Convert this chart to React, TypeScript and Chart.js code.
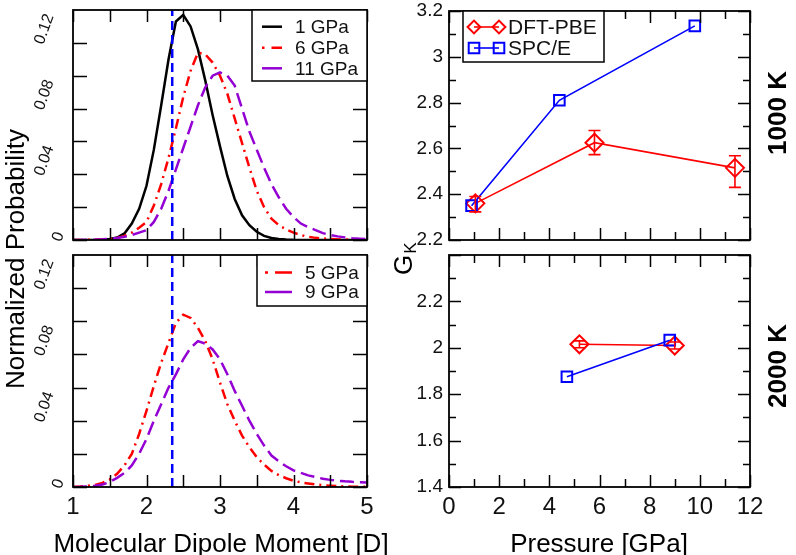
import React, { useEffect, useRef } from "react";
import { Chart, registerables } from "chart.js";

Chart.register(...registerables);

const FONT = "'Liberation Sans', Arial, Helvetica, sans-serif";

// ---------------- data: dipole distributions ----------------
const DIPOLE_D = [
  1.0, 1.1, 1.2, 1.3, 1.4, 1.5, 1.6, 1.7, 1.8, 1.9,
  2.0, 2.1, 2.2, 2.3, 2.4, 2.5, 2.6, 2.7, 2.8, 2.9,
  3.0, 3.1, 3.2, 3.3, 3.4, 3.5, 3.6, 3.7, 3.8, 3.9,
  4.0, 4.1, 4.2, 4.3, 4.4, 4.5, 4.6, 4.7, 4.8, 4.9, 5.0,
];
const PROB_1GPA = [
  0, 0, 0, 0, 0.0002, 0.0006, 0.0015, 0.004, 0.01, 0.019,
  0.033, 0.055, 0.082, 0.11, 0.133, 0.137, 0.13, 0.116, 0.097, 0.076,
  0.057, 0.039, 0.025, 0.015, 0.009, 0.005, 0.0025, 0.0012, 0.0006, 0.0003,
  0.0001, 0, 0, 0, 0, 0, 0, 0, 0, 0, 0,
];
const PROB_6GPA = [
  0, 0, 0.0001, 0.0002, 0.0004, 0.0007, 0.0012, 0.0025, 0.0045, 0.0075,
  0.011, 0.021, 0.034, 0.05, 0.068, 0.087, 0.103, 0.114, 0.113, 0.108,
  0.1, 0.089, 0.074, 0.059, 0.044, 0.03, 0.02, 0.013, 0.009, 0.0065,
  0.0045, 0.003, 0.002, 0.0013, 0.0009, 0.0006, 0.0004, 0.0003, 0.0002, 0.0001, 0.0001,
];
const PROB_11GPA = [
  0, 0, 0.0001, 0.0002, 0.0004, 0.0007, 0.0012, 0.002, 0.003, 0.0045,
  0.006, 0.011, 0.019, 0.03, 0.043, 0.056, 0.069, 0.082, 0.093, 0.1,
  0.102, 0.1, 0.094, 0.08, 0.066, 0.055, 0.044, 0.034, 0.026, 0.019,
  0.014, 0.01, 0.0078, 0.006, 0.0042, 0.003, 0.0022, 0.0016, 0.0011, 0.0008, 0.0005,
];
const PROB_5GPA = [
  0, 0.0003, 0.0007, 0.0013, 0.0025, 0.0045, 0.008, 0.013, 0.02, 0.032,
  0.046, 0.061, 0.075, 0.087, 0.099, 0.104, 0.102, 0.096, 0.088, 0.077,
  0.063, 0.05, 0.04, 0.031, 0.024, 0.018, 0.0135, 0.0097, 0.0072, 0.0053,
  0.0038, 0.0028, 0.0021, 0.0015, 0.0011, 0.0008, 0.0005, 0.0003, 0.0002, 0.0001, 0.0001,
];
const PROB_9GPA = [
  0, 0.0001, 0.0003, 0.0007, 0.0015, 0.003, 0.0055, 0.0085, 0.013, 0.02,
  0.029, 0.04, 0.05, 0.06, 0.068, 0.077, 0.084, 0.088, 0.0865, 0.083,
  0.077, 0.068, 0.058, 0.049, 0.04, 0.032, 0.025, 0.019, 0.0155, 0.0125,
  0.01, 0.0085, 0.007, 0.006, 0.005, 0.0043, 0.0038, 0.0034, 0.0031, 0.0029, 0.0027,
];
const REF_DIPOLE = 2.35;
const DIPOLE_MIN = 1;
const DIPOLE_MAX = 5;
const PROB_MIN = 0;
const PROB_MAX = 0.14;
const DIPOLE_MAJOR = [1, 2, 3, 4, 5];
const DIPOLE_LABELS = ["1", "2", "3", "4", "5"];
const DIPOLE_MINOR = [1.5, 2.5, 3.5, 4.5];
const PROB_MAJOR = [0, 0.04, 0.08, 0.12];
const PROB_LABELS = ["0", "0.04", "0.08", "0.12"];
const PROB_MINOR = [0.02, 0.06, 0.1];

// ---------------- data: Kirkwood factor ----------------
const P_DFT_1000 = [1.05, 5.8, 11.4];
const G_DFT_1000 = [2.36, 2.625, 2.515];
const G_DFT_1000_LO = [2.323, 2.573, 2.43];
const G_DFT_1000_HI = [2.39, 2.678, 2.568];
const P_SPCE_1000 = [0.9, 4.4, 9.8];
const G_SPCE_1000 = [2.35, 2.81, 3.135];

const P_DFT_2000 = [5.2, 9.0];
const G_DFT_2000 = [2.015, 2.01];
const G_DFT_2000_LO = [2.0, 1.995];
const G_DFT_2000_HI = [2.03, 2.025];
const P_SPCE_2000 = [4.7, 8.8];
const G_SPCE_2000 = [1.875, 2.033];

const P_MIN = 0;
const P_MAX = 12;
const P_MAJOR = [0, 2, 4, 6, 8, 10, 12];
const P_LABELS = ["0", "2", "4", "6", "8", "10", "12"];
const P_MINOR = [1, 3, 5, 7, 9, 11];
const G1000_MIN = 2.2;
const G1000_MAX = 3.2;
const G1000_MAJOR = [2.2, 2.4, 2.6, 2.8, 3.0, 3.2];
const G1000_LABELS = ["2.2", "2.4", "2.6", "2.8", "3", "3.2"];
const G1000_MINOR = [2.3, 2.5, 2.7, 2.9, 3.1];
const G2000_MIN = 1.4;
const G2000_MAX = 2.4;
const G2000_MAJOR = [1.4, 1.6, 1.8, 2.0, 2.2];
const G2000_LABELS = ["1.4", "1.6", "1.8", "2", "2.2"];
const G2000_MINOR = [1.5, 1.7, 1.9, 2.1, 2.3];

const BLACK = "#000000";
const RED = "#ff0000";
const VIOLET = "#9400d3";
const BLUE = "#0000ff";

const pts = (xs: number[], ys: number[]) => xs.map((x, i) => ({ x, y: ys[i] }));

type LegendItem = {
  label: string;
  color: string;
  dash: number[];
  width: number;
  marker?: "diamond" | "square";
};
type LegendSpec = {
  anchor: "left" | "right";
  dx: number;
  w: number;
  h: number;
  rows: number[];
  sx0: number;
  sx1: number;
  tx: number;
  font: string;
  items: LegendItem[];
};
type TextSpec = {
  text: string;
  x: number;
  y: number;
  font: string;
  align: CanvasTextAlign;
  rot?: number;
  sub?: string;
  subFont?: string;
};
type ErrSpec = { xs: number[]; lo: number[]; hi: number[]; color: string; width: number; cap: number };
type DecorSpec = {
  xMajor: number[];
  xMinor: number[];
  yMajor: number[];
  yMinor: number[];
  xMajorLen: number;
  xMinorLen: number;
  yMajorLen: number;
  yMinorLen: number;
  rotLabels?: { values: number[]; labels: string[] };
  legend?: LegendSpec;
  texts?: TextSpec[];
  errors?: ErrSpec[];
};

function drawMarker(ctx: CanvasRenderingContext2D, kind: string, x: number, y: number, s: number) {
  ctx.beginPath();
  if (kind === "diamond") {
    ctx.moveTo(x - s, y);
    ctx.lineTo(x, y - s);
    ctx.lineTo(x + s, y);
    ctx.lineTo(x, y + s);
    ctx.closePath();
  } else {
    ctx.rect(x - s, y - s, 2 * s, 2 * s);
  }
  ctx.stroke();
}

function makeDecor(spec: DecorSpec) {
  return {
    id: "decor",
    afterDatasetsDraw(chart: any) {
      const ctx: CanvasRenderingContext2D = chart.ctx;
      const xs = chart.scales.x;
      const ys = chart.scales.y;
      (spec.errors || []).forEach((eb) => {
        ctx.save();
        ctx.strokeStyle = eb.color;
        ctx.lineWidth = eb.width;
        ctx.setLineDash([]);
        eb.xs.forEach((xv, i) => {
          const px = xs.getPixelForValue(xv);
          const lo = ys.getPixelForValue(eb.lo[i]);
          const hi = ys.getPixelForValue(eb.hi[i]);
          ctx.beginPath();
          ctx.moveTo(px, lo);
          ctx.lineTo(px, hi);
          ctx.moveTo(px - eb.cap, lo);
          ctx.lineTo(px + eb.cap, lo);
          ctx.moveTo(px - eb.cap, hi);
          ctx.lineTo(px + eb.cap, hi);
          ctx.stroke();
        });
        ctx.restore();
      });
    },
    afterDraw(chart: any) {
      const ctx: CanvasRenderingContext2D = chart.ctx;
      const ca = chart.chartArea;
      const xs = chart.scales.x;
      const ys = chart.scales.y;
      ctx.save();
      ctx.setLineDash([]);
      ctx.strokeStyle = "#000";
      ctx.lineWidth = 1.8;
      ctx.strokeRect(ca.left, ca.top, ca.right - ca.left, ca.bottom - ca.top);
      ctx.lineWidth = 1.5;
      ctx.beginPath();
      const tx = (vals: number[], len: number) =>
        vals.forEach((v) => {
          const p = Math.round(xs.getPixelForValue(v)) + 0.5;
          ctx.moveTo(p, ca.bottom);
          ctx.lineTo(p, ca.bottom - len);
          ctx.moveTo(p, ca.top);
          ctx.lineTo(p, ca.top + len);
        });
      const ty = (vals: number[], len: number) =>
        vals.forEach((v) => {
          const p = Math.round(ys.getPixelForValue(v)) + 0.5;
          ctx.moveTo(ca.left, p);
          ctx.lineTo(ca.left + len, p);
          ctx.moveTo(ca.right, p);
          ctx.lineTo(ca.right - len, p);
        });
      tx(spec.xMajor, spec.xMajorLen);
      tx(spec.xMinor, spec.xMinorLen);
      ty(spec.yMajor, spec.yMajorLen);
      ty(spec.yMinor, spec.yMinorLen);
      ctx.stroke();

      // rotated y tick labels
      if (spec.rotLabels) {
        const rl = spec.rotLabels;
        ctx.font = `16px ${FONT}`;
        ctx.fillStyle = "#111";
        ctx.textAlign = "left";
        ctx.textBaseline = "middle";
        const th = (70 * Math.PI) / 180;
        rl.values.forEach((v, i) => {
          const label = rl.labels[i];
          const L = ctx.measureText(label).width;
          const py = ys.getPixelForValue(v);
          ctx.save();
          ctx.translate(ca.left - 9 - 0.8 * L, py + 1);
          ctx.rotate(-th);
          ctx.fillText(label, 0, 0);
          ctx.restore();
        });
      }

      // legend
      if (spec.legend) {
        const lg = spec.legend;
        const bx = lg.anchor === "right" ? ca.right - lg.w : ca.left + lg.dx;
        const by = ca.top;
        ctx.fillStyle = "#fff";
        ctx.fillRect(bx, by, lg.w, lg.h);
        ctx.strokeStyle = "#000";
        ctx.lineWidth = 1.5;
        ctx.setLineDash([]);
        ctx.strokeRect(bx, by, lg.w, lg.h);
        lg.items.forEach((it, i) => {
          const y = by + lg.rows[i];
          ctx.save();
          ctx.strokeStyle = it.color;
          ctx.lineWidth = it.width;
          ctx.setLineDash(it.dash);
          ctx.beginPath();
          ctx.moveTo(bx + lg.sx0, y);
          ctx.lineTo(bx + lg.sx1, y);
          ctx.stroke();
          ctx.setLineDash([]);
          if (it.marker) {
            ctx.lineWidth = 2;
            const s = it.marker === "diamond" ? 6.4 : 5.3;
            drawMarker(ctx, it.marker, bx + lg.sx0, y, s);
            drawMarker(ctx, it.marker, bx + lg.sx1, y, s);
          }
          ctx.restore();
          ctx.font = lg.font;
          ctx.fillStyle = "#111";
          ctx.textAlign = "left";
          ctx.textBaseline = "middle";
          ctx.fillText(it.label, bx + lg.tx, y + 1);
        });
      }

      // free texts
      (spec.texts || []).forEach((t) => {
        ctx.save();
        ctx.translate(t.x, t.y);
        if (t.rot) ctx.rotate(t.rot);
        ctx.font = t.font;
        ctx.fillStyle = "#000";
        ctx.textAlign = t.align;
        ctx.textBaseline = "alphabetic";
        ctx.fillText(t.text, 0, 0);
        if (t.sub) {
          const w = ctx.measureText(t.text).width;
          ctx.font = t.subFont || t.font;
          ctx.textAlign = "left";
          ctx.fillText(t.sub, w + 1, 4);
        }
        ctx.restore();
      });
      ctx.restore();
    },
  };
}

const fixW = (w: number) => (s: any) => {
  s.width = w;
  s.paddingTop = 0;
  s.paddingBottom = 0;
};
const fixH = (h: number) => (s: any) => {
  s.height = h;
  s.paddingLeft = 0;
  s.paddingRight = 0;
};

function labelFor(values: number[], labels: string[]) {
  return (v: number) => {
    const i = values.findIndex((t) => Math.abs(t - v) < 1e-9);
    return i >= 0 ? labels[i] : "";
  };
}

function xAxis(min: number, max: number, major: number[], labels: string[] | null, h: number) {
  return {
    type: "linear",
    position: "bottom",
    min,
    max,
    afterBuildTicks: (s: any) => {
      s.ticks = major.map((v) => ({ value: v }));
    },
    afterFit: fixH(h),
    grid: { display: false, drawTicks: false },
    border: { display: false },
    ticks: {
      display: !!labels,
      autoSkip: false,
      maxRotation: 0,
      minRotation: 0,
      padding: 6,
      color: "#111",
      font: { family: FONT, size: 24 },
      callback: labels ? labelFor(major, labels) : () => "",
    },
  };
}

function yAxis(min: number, max: number, major: number[], labels: string[] | null, w: number) {
  return {
    type: "linear",
    position: "left",
    min,
    max,
    afterBuildTicks: (s: any) => {
      s.ticks = major.map((v) => ({ value: v }));
    },
    afterFit: fixW(w),
    grid: { display: false, drawTicks: false },
    border: { display: false },
    ticks: {
      display: !!labels,
      autoSkip: false,
      padding: 6,
      color: "#111",
      font: { family: FONT, size: 19 },
      callback: labels ? labelFor(major, labels) : () => "",
    },
  };
}

const lineDs = (label: string, xs: number[], ys: number[], color: string, dash: number[], width: number) => ({
  label,
  data: pts(xs, ys),
  showLine: true,
  borderColor: color,
  borderWidth: width,
  borderDash: dash,
  pointRadius: 0,
  fill: false,
  tension: 0,
});

const markDs = (label: string, xs: number[], ys: number[], color: string, style: string, radius: number) => ({
  label,
  data: pts(xs, ys),
  showLine: true,
  borderColor: color,
  borderWidth: 1.6,
  pointStyle: style,
  pointRadius: radius,
  pointBorderWidth: 2,
  pointBorderColor: color,
  pointBackgroundColor: "rgba(0,0,0,0)",
  fill: false,
  tension: 0,
});

function baseOptions(padding: any, scales: any) {
  return {
    responsive: false,
    animation: false,
    events: [],
    layout: { padding },
    plugins: { legend: { display: false }, tooltip: { enabled: false }, title: { display: false } },
    scales,
  };
}

function configTL() {
  return {
    type: "scatter",
    data: {
      datasets: [
        lineDs("ref", [REF_DIPOLE, REF_DIPOLE], [PROB_MIN, PROB_MAX], BLUE, [9, 5], 2.5),
        lineDs("11 GPa", DIPOLE_D, PROB_11GPA, VIOLET, [14, 6], 2.5),
        lineDs("6 GPa", DIPOLE_D, PROB_6GPA, RED, [10, 5, 2, 5], 2.5),
        lineDs("1 GPa", DIPOLE_D, PROB_1GPA, BLACK, [], 2.5),
      ],
    },
    options: baseOptions(
      { left: 73, right: 429, top: 10, bottom: 315 },
      {
        x: xAxis(DIPOLE_MIN, DIPOLE_MAX, DIPOLE_MAJOR, null, 0),
        y: yAxis(PROB_MIN, PROB_MAX, PROB_MAJOR, null, 0),
      }
    ),
    plugins: [
      makeDecor({
        xMajor: DIPOLE_MAJOR,
        xMinor: DIPOLE_MINOR,
        yMajor: PROB_MAJOR,
        yMinor: PROB_MINOR,
        xMajorLen: 12,
        xMinorLen: 12,
        yMajorLen: 14,
        yMinorLen: 14,
        rotLabels: { values: PROB_MAJOR, labels: PROB_LABELS },
        legend: {
          anchor: "right",
          dx: 0,
          w: 115,
          h: 71,
          rows: [16.7, 37.7, 58.3],
          sx0: 10,
          sx1: 30,
          tx: 43,
          font: `19px ${FONT}`,
          items: [
            { label: "1 GPa", color: BLACK, dash: [], width: 2.5 },
            { label: "6 GPa", color: RED, dash: [2.5, 7, 11, 100], width: 2.5 },
            { label: "11 GPa", color: VIOLET, dash: [], width: 2.5 },
          ],
        },
      }),
    ],
  };
}

function configBL() {
  return {
    type: "scatter",
    data: {
      datasets: [
        lineDs("ref", [REF_DIPOLE, REF_DIPOLE], [PROB_MIN, PROB_MAX], BLUE, [9, 5], 2.5),
        lineDs("9 GPa", DIPOLE_D, PROB_9GPA, VIOLET, [14, 6], 2.5),
        lineDs("5 GPa", DIPOLE_D, PROB_5GPA, RED, [10, 5, 2, 5], 2.5),
      ],
    },
    options: baseOptions(
      { left: 73, right: 429, top: 255, bottom: 8 },
      {
        x: xAxis(DIPOLE_MIN, DIPOLE_MAX, DIPOLE_MAJOR, DIPOLE_LABELS, 60),
        y: yAxis(PROB_MIN, PROB_MAX, PROB_MAJOR, null, 0),
      }
    ),
    plugins: [
      makeDecor({
        xMajor: DIPOLE_MAJOR,
        xMinor: DIPOLE_MINOR,
        yMajor: PROB_MAJOR,
        yMinor: PROB_MINOR,
        xMajorLen: 12,
        xMinorLen: 12,
        yMajorLen: 14,
        yMinorLen: 14,
        rotLabels: { values: PROB_MAJOR, labels: PROB_LABELS },
        legend: {
          anchor: "right",
          dx: 0,
          w: 110,
          h: 51,
          rows: [17.5, 37],
          sx0: 8,
          sx1: 35,
          tx: 48,
          font: `19px ${FONT}`,
          items: [
            { label: "5 GPa", color: RED, dash: [3, 7, 17, 100], width: 2.5 },
            { label: "9 GPa", color: VIOLET, dash: [], width: 2.5 },
          ],
        },
        texts: [
          {
            text: "Normalized Probability",
            x: 24,
            y: 259,
            font: `26px ${FONT}`,
            align: "center",
            rot: -Math.PI / 2,
          },
          {
            text: "Molecular Dipole Moment [D]",
            x: 221,
            y: 552,
            font: `26px ${FONT}`,
            align: "center",
          },
        ],
      }),
    ],
  };
}

function configTR() {
  return {
    type: "scatter",
    data: {
      datasets: [
        markDs("SPC/E", P_SPCE_1000, G_SPCE_1000, BLUE, "rect", 7.5),
        markDs("DFT-PBE", P_DFT_1000, G_DFT_1000, RED, "rectRot", 9),
      ],
    },
    options: baseOptions(
      { left: 400, right: 46, top: 10, bottom: 315 },
      {
        x: xAxis(P_MIN, P_MAX, P_MAJOR, null, 0),
        y: yAxis(G1000_MIN, G1000_MAX, G1000_MAJOR, G1000_LABELS, 49),
      }
    ),
    plugins: [
      makeDecor({
        xMajor: P_MAJOR,
        xMinor: P_MINOR,
        yMajor: G1000_MAJOR,
        yMinor: G1000_MINOR,
        xMajorLen: 12,
        xMinorLen: 8,
        yMajorLen: 12,
        yMinorLen: 7,
        errors: [{ xs: P_DFT_1000, lo: G_DFT_1000_LO, hi: G_DFT_1000_HI, color: RED, width: 1.6, cap: 6 }],
        legend: {
          anchor: "left",
          dx: 14,
          w: 141,
          h: 51,
          rows: [16, 37],
          sx0: 11,
          sx1: 36,
          tx: 45,
          font: `21px ${FONT}`,
          items: [
            { label: "DFT-PBE", color: RED, dash: [], width: 1.6, marker: "diamond" },
            { label: "SPC/E", color: BLUE, dash: [], width: 1.6, marker: "square" },
          ],
        },
        texts: [
          {
            text: "1000 K",
            x: 786,
            y: 113,
            font: `bold 26px ${FONT}`,
            align: "center",
            rot: -Math.PI / 2,
          },
        ],
      }),
    ],
  };
}

function configBR() {
  return {
    type: "scatter",
    data: {
      datasets: [
        markDs("SPC/E", P_SPCE_2000, G_SPCE_2000, BLUE, "rect", 7.5),
        markDs("DFT-PBE", P_DFT_2000, G_DFT_2000, RED, "rectRot", 9),
      ],
    },
    options: baseOptions(
      { left: 400, right: 46, top: 255, bottom: 8 },
      {
        x: xAxis(P_MIN, P_MAX, P_MAJOR, P_LABELS, 60),
        y: yAxis(G2000_MIN, G2000_MAX, G2000_MAJOR, G2000_LABELS, 49),
      }
    ),
    plugins: [
      makeDecor({
        xMajor: P_MAJOR,
        xMinor: P_MINOR,
        yMajor: [...G2000_MAJOR, G2000_MAX],
        yMinor: G2000_MINOR,
        xMajorLen: 12,
        xMinorLen: 8,
        yMajorLen: 12,
        yMinorLen: 7,
        errors: [{ xs: P_DFT_2000, lo: G_DFT_2000_LO, hi: G_DFT_2000_HI, color: RED, width: 1.6, cap: 6 }],
        texts: [
          {
            text: "2000 K",
            x: 786,
            y: 366,
            font: `bold 26px ${FONT}`,
            align: "center",
            rot: -Math.PI / 2,
          },
          {
            text: "Pressure [GPa]",
            x: 599,
            y: 552,
            font: `26px ${FONT}`,
            align: "center",
          },
          {
            text: "G",
            x: 412,
            y: 275,
            font: `26px ${FONT}`,
            align: "left",
            rot: -Math.PI / 2,
            sub: "K",
            subFont: `17px ${FONT}`,
          },
        ],
      }),
    ],
  };
}

export default function App() {
  const r1 = useRef<HTMLCanvasElement>(null);
  const r2 = useRef<HTMLCanvasElement>(null);
  const r3 = useRef<HTMLCanvasElement>(null);
  const r4 = useRef<HTMLCanvasElement>(null);

  useEffect(() => {
    document.body.style.margin = "0";
    const cfgs = [configTL(), configBL(), configTR(), configBR()];
    const refs = [r1, r2, r3, r4];
    const charts = refs.map((r, i) => new Chart(r.current as HTMLCanvasElement, cfgs[i] as any));
    return () => charts.forEach((c) => c.destroy());
  }, []);

  const cs: React.CSSProperties = { position: "absolute", left: 0, top: 0, width: 796, height: 555 };
  return (
    <div style={{ position: "relative", width: 796, height: 555, background: "#fff", overflow: "hidden" }}>
      <canvas ref={r1} width={796} height={555} style={cs} />
      <canvas ref={r2} width={796} height={555} style={cs} />
      <canvas ref={r3} width={796} height={555} style={cs} />
      <canvas ref={r4} width={796} height={555} style={cs} />
    </div>
  );
}
